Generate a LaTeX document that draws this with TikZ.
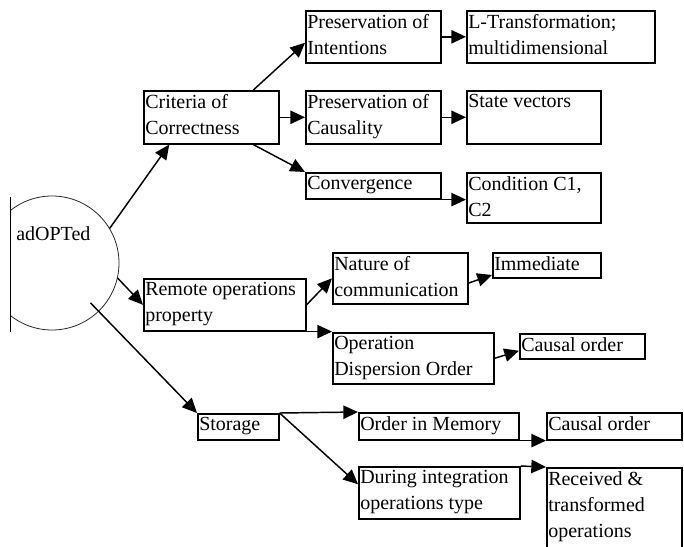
\documentclass[tikz,border=0pt]{standalone}
\usepackage{fontspec}
\setmainfont{Liberation Serif}
\usetikzlibrary{positioning}
\usetikzlibrary{arrows.meta}

\begin{document}
\begin{tikzpicture}[x=0.75pt, y=-0.75pt,
					cellbox/.style 2 args={draw=black, line width=1.2pt, anchor=north west, inner sep=0pt, minimum width=#1*0.75pt, minimum height=#2*0.75pt},
					celltext/.style={anchor=north west, align=left, inner xsep=1.5pt, inner ysep=3.3pt, font=\fontsize{15}{19.5}\selectfont},
					linkarrow/.style={line width=1.1pt, -{Triangle[length=11pt,width=10pt]}},
					]
					\useasboundingbox (0,0) rectangle (684,546);
					%Nodes
					\begin{scope}
					\clip (10,150) rectangle (200,350);
					\node[circle, draw=black!85, line width=0.6pt, inner sep=0pt, minimum size=134*0.75pt] (adopted) at (52,263) {};
					\end{scope}
					\draw[line width=0.7pt] (10,197) -- (10,332);
					\node[celltext, anchor=base west, inner sep=0pt] (adoptedlbl) at (16,240) {adOPTed};
					
					\node[cellbox={135}{53}, label={[celltext]north west:{Criteria of\\Correctness}}]            (crit)     at (143,90)  {};
					\node[cellbox={135}{52}, label={[celltext]north west:{Preservation of\\Intentions}}]         (presint)  at (305,10)  {};
					\node[cellbox={188}{52}, label={[celltext]north west:{L-Transformation;\\multidimensional}}] (ltrans)   at (466,10)  {};
					\node[cellbox={135}{53}, label={[celltext]north west:{Preservation of\\Causality}}]          (prescaus) at (305,90)  {};
					\node[cellbox={134}{53}, label={[celltext]north west:{State vectors}}]                       (state)    at (466,90)  {};
					\node[cellbox={135}{26}, label={[celltext]north west:{Convergence}}]                         (conv)     at (305,172) {};
					\node[cellbox={134}{50}, label={[celltext]north west:{Condition C1,\\C2}}]                   (cond)     at (466,172) {};
					
					\node[cellbox={162}{52}, label={[celltext]north west:{Remote operations\\property}}]         (remote)   at (143,278) {};
					\node[cellbox={135}{51}, label={[celltext]north west:{Nature of\\communication}}]            (nature)   at (332,252) {};
					\node[cellbox={108}{25}, label={[celltext]north west:{Immediate}}]                           (immed)    at (492,252) {};
					\node[cellbox={161}{51}, label={[celltext]north west:{Operation\\Dispersion Order}}]         (disp)     at (332,332) {};
					\node[cellbox={125}{25}, label={[celltext]north west:{Causal order}}]                        (causal1)  at (519,333) {};
					
					\node[cellbox={81}{26},  label={[celltext]north west:{Storage}}]                             (storage)  at (197,413) {};
					\node[cellbox={160}{27}, label={[celltext]north west:{Order in Memory}}]                     (memory)   at (358,412) {};
					\node[cellbox={135}{27}, label={[celltext]north west:{Causal order}}]                        (causal2)  at (546,412) {};
					\node[cellbox={161}{52}, label={[celltext]north west:{During integration\\operations type}}] (during)   at (358,466) {};
					\node[cellbox={135}{84}, label={[celltext]north west:{Received \&\\transformed\\operations}}] (recv)    at (546,467) {};
					
					%Lines
					\draw[linkarrow] (adopted.31) -- (crit.213);
					\draw[linkarrow] (crit.33) -- (presint.185);
					\draw[linkarrow] (crit.east) -- (prescaus.west);
					\draw[linkarrow] (crit.-33) -- (conv.north west);
					\draw[linkarrow] (presint.east) -- (ltrans.west);
					\draw[linkarrow] (prescaus.east) -- (state.west);
					\draw[linkarrow] (conv.south east) -- (conv.south east -| cond.west);
					
					\draw[linkarrow] (adopted.-13) -- (remote.west);
					\draw[linkarrow] (remote.east) -- (nature.west);
					\draw[linkarrow] (remote.south east) -- (remote.south east -| disp.west);
					\draw[linkarrow] (nature.-4) -- (immed.190);
					\draw[linkarrow] (disp.east) -- (causal1.184);
					
					\draw[linkarrow, shorten <=-9pt] (adopted.-46) -- (storage.north west);
					\draw[linkarrow] (storage.north east) -- (memory.north west);
					\draw[linkarrow] (storage.north east) -- (during.174);
					\draw[linkarrow] (memory.south east) -- (causal2.south west);
					\draw[linkarrow] (during.north east) -- (recv.north west);
				\end{tikzpicture}
\end{document}
